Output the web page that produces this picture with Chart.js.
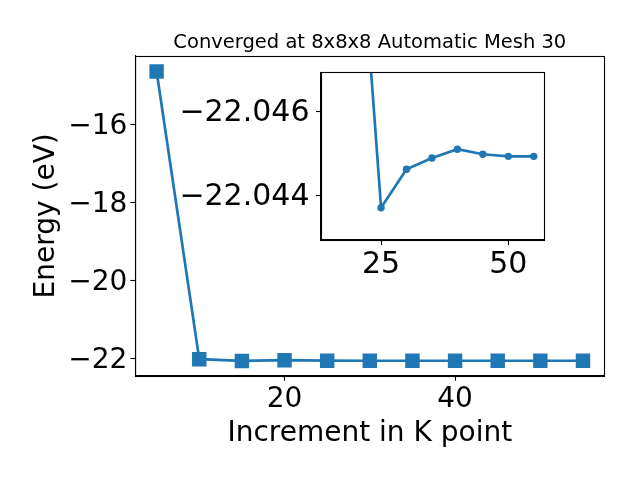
<!DOCTYPE html>
<html><head><meta charset="utf-8">
<script src="https://cdn.jsdelivr.net/npm/chart.js@4/dist/chart.umd.min.js"></script>
<style>
html,body{margin:0;padding:0;background:#fff;}
#wrap{position:relative;width:640px;height:480px;}
canvas{position:absolute;left:0;top:0;}
</style></head><body>
<div id="wrap"><canvas id="main" width="640" height="480"></canvas><canvas id="inset" width="640" height="480"></canvas></div>
<script>
// ---- data ----
const kPoints = [5, 10, 15, 20, 25, 30, 35, 40, 45, 50, 55];
const energy = [-14.65, -22.005, -22.05, -22.03, -22.0437, -22.0446, -22.0449, -22.0451, -22.0450, -22.0449, -22.0449];
const insetK = [20, 25, 30, 35, 40, 45, 50, 55];
const insetEnergy = [-22.052, -22.0437, -22.04462, -22.04489, -22.0451, -22.04498, -22.04493, -22.04493];
const xTicks = [20, 40];
const yTicks = [-22, -20, -18, -16];
const insetXTicks = [25, 50];
const insetYTicks = [-22.046, -22.044];
const titleText = 'Converged at 8x8x8 Automatic Mesh 30';
const xLabel = 'Increment in K point';
const yLabel = 'Energy (eV)';

const BLUE = '#1f77b4';
const FONT = 'DejaVu Sans';
const fmt = (v, d) => (v < 0 ? '\u2212' : '') + (d ? Math.abs(v).toFixed(d) : String(Math.abs(v)));

const framePlugin = {
  id: 'frame',
  beforeDraw(chart, args, opts) {
    if (opts.fill) {
      const a = chart.chartArea, c = chart.ctx;
      c.save(); c.fillStyle = '#fff';
      c.fillRect(a.left, a.top, a.right - a.left, a.bottom - a.top);
      c.restore();
    }
  },
  afterDraw(chart) {
    const a = chart.chartArea, c = chart.ctx;
    c.save(); c.strokeStyle = '#000'; c.lineWidth = 1.1;
    c.strokeRect(Math.round(a.left) + 0.5, Math.round(a.top) + 0.5, Math.round(a.right - a.left), Math.round(a.bottom - a.top));
    c.restore();
  }
};

function axisGrid() {
  return { display: true, drawOnChartArea: false, drawTicks: true, tickLength: 5, tickColor: '#000', tickWidth: 1.1 };
}

// ---- main chart ----
new Chart(document.getElementById('main'), {
  type: 'line',
  data: {
    datasets: [{
      data: kPoints.map((x, i) => ({ x: x, y: energy[i] })),
      borderColor: BLUE, backgroundColor: BLUE, borderWidth: 2.7,
      pointStyle: 'rect', pointRadius: 10.2, pointBorderWidth: 0,
      pointBackgroundColor: BLUE, tension: 0
    }]
  },
  options: {
    responsive: false, animation: false, devicePixelRatio: 1,
    events: [],
    layout: { padding: { left: 0, right: 35.7, top: 0, bottom: 0 } },
    plugins: {
      legend: { display: false }, tooltip: { enabled: false },
      title: {
        display: true, text: titleText, fullSize: false, color: '#000',
        font: { family: FONT, size: 19.5, weight: 'normal' },
        padding: { top: 31, bottom: 1.6 }
      },
      frame: { fill: false }
    },
    scales: {
      x: {
        type: 'linear', min: 2.5, max: 57.5,
        afterBuildTicks: s => { s.ticks = xTicks.map(v => ({ value: v })); },
        afterFit: s => { s.height = 104.3; },
        grid: axisGrid(),
        border: { display: true, color: '#000', width: 1.1 },
        ticks: { color: '#000', padding: 2, maxRotation: 0, font: { family: FONT, size: 28 }, callback: v => fmt(v) },
        title: { display: true, text: xLabel, color: '#000', font: { family: FONT, size: 28 }, padding: { top: 0, bottom: 29 } }
      },
      y: {
        type: 'linear', min: -22.427, max: -14.253,
        afterBuildTicks: s => { s.ticks = yTicks.map(v => ({ value: v })); },
        afterFit: s => { s.width = 135.3; },
        grid: axisGrid(),
        border: { display: true, color: '#000', width: 1.1 },
        ticks: { color: '#000', padding: 3, labelOffset: 2, font: { family: FONT, size: 28 }, callback: v => fmt(v) },
        title: { display: true, text: yLabel, color: '#000', font: { family: FONT, size: 28 }, padding: { top: 30, bottom: 0 } }
      }
    }
  },
  plugins: [framePlugin]
});

// ---- inset chart ----
new Chart(document.getElementById('inset'), {
  type: 'line',
  data: {
    datasets: [{
      data: insetK.map((x, i) => ({ x: x, y: insetEnergy[i] })),
      borderColor: BLUE, backgroundColor: BLUE, borderWidth: 2.7,
      pointStyle: 'circle', pointRadius: 3.7, pointBorderWidth: 0,
      pointBackgroundColor: BLUE, tension: 0
    }]
  },
  options: {
    responsive: false, animation: false, devicePixelRatio: 1,
    events: [],
    layout: { padding: { left: 0, right: 95.7, top: 72.3, bottom: 0 } },
    plugins: {
      legend: { display: false }, tooltip: { enabled: false },
      frame: { fill: true }
    },
    scales: {
      x: {
        type: 'linear', min: 13.2, max: 57.07,
        afterBuildTicks: s => { s.ticks = insetXTicks.map(v => ({ value: v })); },
        afterFit: s => { s.height = 240; },
        grid: axisGrid(),
        border: { display: true, color: '#000', width: 1.1 },
        ticks: { color: '#000', padding: 2.5, maxRotation: 0, font: { family: FONT, size: 30 }, callback: v => fmt(v) }
      },
      y: {
        type: 'linear', reverse: true, min: -22.04694, max: -22.04293,
        afterBuildTicks: s => { s.ticks = insetYTicks.map(v => ({ value: v })); },
        afterFit: s => { s.width = 321; },
        grid: axisGrid(),
        border: { display: true, color: '#000', width: 1.1 },
        ticks: { color: '#000', padding: 6.5, labelOffset: 2, font: { family: FONT, size: 30 }, callback: v => fmt(v, 3) }
      }
    }
  },
  plugins: [framePlugin]
});
</script>
</body></html>
